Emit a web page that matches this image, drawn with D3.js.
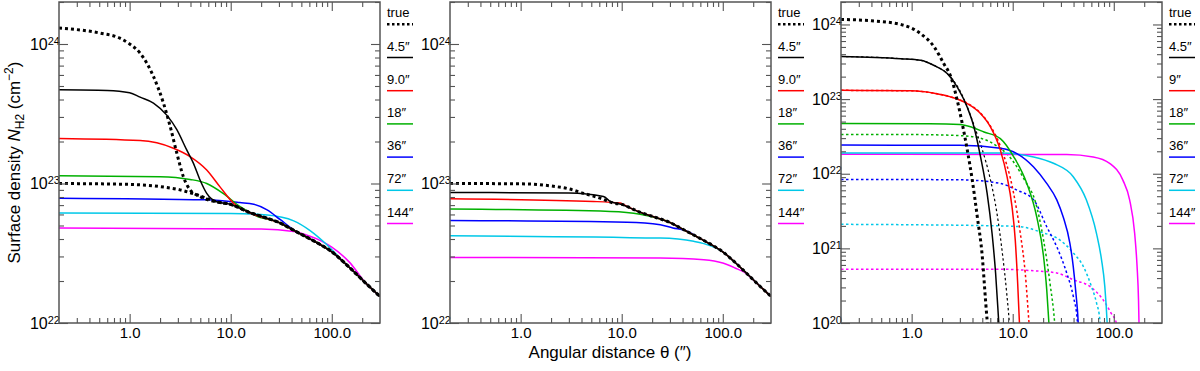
<!DOCTYPE html>
<html>
<head>
<meta charset="utf-8">
<script src="https://cdn.jsdelivr.net/npm/d3@7"></script>
<style>
  body { margin: 0; background: #fff; }
  text { font-family: "Liberation Sans", Arial, Helvetica, sans-serif; fill: #000; }
</style>
</head>
<body>
<svg id="chart"></svg>
<script>
// angular distance theta in arcsec, surface density N_H2 in cm^-2

// outer profile that every curve of the two left panels ends on
const tail = [[10, 7.08e22], [15, 6.24e22], [20, 5.82e22], [30, 5.25e22], [42, 4.62e22], [60, 4.03e22],
  [80, 3.59e22], [100, 3.24e22], [130, 2.75e22], [170, 2.29e22], [220, 1.91e22], [300, 1.55e22]];

// left panel
const aTrueHi = [[0.2, 1.3e24], [0.5, 1.2e24], [0.8, 1.1e24], [1.0, 1.0e24], [1.27, 8.6e23], [1.72, 5.85e23],
  [2.16, 3.77e23], [2.52, 2.56e23], [2.93, 1.65e23], [3.4, 1.12e23], [3.96, 9.0e22], [4.97, 8.07e22], [7.8, 7.3e22]];
const aTrueLo = [[0.2, 1.0e23], [1.0, 9.85e22], [2.0, 9.5e22], [3.15, 9.0e22], [4.6, 8.3e22], [7.26, 7.4e22]];
const a4 = [[0.2, 4.7e23], [0.6, 4.65e23], [1.0, 4.47e23], [1.27, 4.16e23], [1.72, 3.77e23], [2.33, 3.09e23],
  [2.93, 2.43e23], [3.67, 1.74e23], [4.27, 1.4e23], [4.97, 1.06e23], [5.79, 8.5e22], [7.26, 7.4e22]];
const a9 = [[0.2, 2.1e23], [1.27, 2.03e23], [2.71, 1.79e23], [3.96, 1.56e23], [5.79, 1.25e23], [7.8, 9.5e22],
  [10.6, 7.25e22], [15.5, 6.15e22], [22.5, 5.6e22]];
const a18 = [[0.2, 1.135e23], [2.0, 1.12e23], [3.96, 1.07e23], [5.79, 1.0e23], [8.4, 8.5e22], [12.3, 6.85e22], [18, 5.85e22]];
const a36 = [[0.2, 7.85e22], [5.79, 7.64e22], [12.3, 7.3e22], [16.9, 7.1e22], [22.9, 6.46e22], [31, 5.5e22], [42, 4.66e22]];
const a72 = [[0.2, 6.14e22], [10, 6.1e22], [22.9, 5.95e22], [42, 5.4e22], [61, 4.6e22], [89, 3.65e22]];
const a144 = [[0.2, 4.79e22], [20, 4.72e22], [42, 4.53e22], [60, 4.2e22], [80, 3.85e22], [100, 3.5e22], [150, 2.72e22]];

// middle panel
const bTrue = [[0.2, 1.0e23], [1.0, 9.95e22], [2.0, 9.6e22], [3.0, 9.15e22], [4.2, 8.5e22], [6.1, 7.85e22], [8.3, 7.24e22]];
const b4 = [[0.2, 8.63e22], [3.0, 8.55e22], [6.6, 8.07e22], [7.7, 7.43e22]];
const b9 = [[0.2, 7.76e22], [5.25, 7.43e22], [9.7, 7.24e22], [11.3, 6.84e22]];
const b18 = [[0.2, 6.56e22], [7.7, 6.31e22], [15.2, 6.03e22], [22.3, 5.65e22]];
const b36 = [[0.2, 5.43e22], [11.3, 5.28e22], [24.1, 5.06e22], [32, 4.8e22]];
const b72 = [[0.2, 4.22e22], [24.1, 4.06e22], [51.5, 3.85e22], [75.9, 3.58e22]];
const b144 = [[0.2, 2.95e22], [24, 2.92e22], [65, 2.84e22], [100, 2.69e22], [132, 2.48e22], [168, 2.28e22]];

// right panel, solid and dotted pairs
const cTrue = [[0.2, 1.17e24], [0.4, 1.12e24], [0.78, 1.0e24], [1.23, 7.5e23], [1.67, 5.01e23], [2.09, 2.95e23],
  [2.44, 2.0e23], [2.83, 9.55e22], [3.17, 4.68e22], [3.55, 2.09e22], [3.98, 8.2e21], [4.46, 2.66e21],
  [5.0, 7.76e20], [5.38, 2.04e20], [5.58, 1.1e20], [5.7, 8e19]];
const c4 = [[0.2, 3.73e23], [0.78, 3.48e23], [1.23, 3.31e23], [1.67, 2.82e23], [2.26, 2.19e23], [2.83, 1.45e23],
  [3.55, 7.76e22], [4.13, 4.27e22], [4.8, 1.7e22], [5.58, 5.5e21], [6.25, 1.58e21], [6.77, 4.68e20], [7.28, 1e20], [7.4, 7e19]];
const c4d = [[0.2, 3.73e23], [0.78, 3.48e23], [1.23, 3.31e23], [1.67, 2.82e23], [2.26, 2.19e23], [3.0, 1.3e23],
  [3.55, 7.9e22], [4.13, 4.5e22], [5.0, 2.1e22], [6.0, 8.5e21], [7.0, 2.9e21], [8.0, 7.5e20], [8.7, 2.6e20], [9.25, 1e20], [9.4, 7e19]];
const c9 = [[0.2, 1.31e23], [1.0, 1.29e23], [1.67, 1.2e23], [2.43, 1.07e23], [3.55, 8.71e22], [4.8, 6.4e22],
  [6.02, 4.24e22], [7.55, 2.07e22], [8.79, 9.12e21], [9.84, 3.63e21], [10.6, 1.29e21], [11.2, 3.39e20], [11.7, 8.9e19]];
const c9d = [[0.2, 1.31e23], [1.0, 1.29e23], [1.67, 1.2e23], [2.43, 1.07e23], [3.55, 8.8e22], [4.8, 6.5e22],
  [6.0, 4.37e22], [7.55, 2.34e22], [10.2, 5.5e21], [11.9, 1.58e21], [13.3, 4.68e20], [14.5, 1e20], [14.8, 7e19]];
const c18 = [[0.2, 4.7e22], [1.5, 4.66e22], [3.0, 4.57e22], [4.0, 4.17e22], [5.2, 3.63e22], [7.55, 2.95e22],
  [10.2, 1.7e22], [13.8, 7.41e21], [17.3, 2.63e21], [20.2, 7.76e20], [21.7, 2.82e20], [22.8, 1e20], [23.2, 7e19]];
const c18d = [[0.2, 3.36e22], [1.0, 3.35e22], [3.0, 3.24e22], [5.0, 2.95e22], [7.0, 2.34e22], [9.0, 1.78e22],
  [13.3, 7.94e21], [16.7, 4.27e21], [20.2, 1.29e21], [23.4, 3.39e20], [26, 1e20], [26.5, 7e19]];
const c36 = [[0.2, 2.42e22], [3.0, 2.4e22], [7.55, 2.19e22], [11, 1.86e22], [16.1, 1.23e22], [21.7, 7.41e21],
  [27.3, 4.47e21], [31.6, 2.63e21], [36.8, 1.17e21], [39.7, 5.75e20], [42.2, 2.51e20], [44.5, 1e20], [45, 7e19]];
const c36d = [[0.2, 8.4e21], [3.0, 8.3e21], [7.55, 7.41e21], [11, 6.03e21], [16.1, 4.47e21], [21.7, 1.95e21],
  [27.3, 1.05e21], [34.2, 4.68e20], [39.7, 2.29e20], [43.5, 1.1e20], [44, 8e19]];
const c72 = [[0.2, 1.9e22], [7.55, 1.89e22], [16.1, 1.68e22], [25.3, 1.38e22], [39.7, 9.12e21], [53.5, 4.47e21],
  [67.5, 1.58e21], [75.6, 7.08e20], [81.5, 3.09e20], [86, 1e20], [87, 7e19]];
const c72d = [[0.2, 2.1e21], [7.55, 2.0e21], [11.9, 1.95e21], [18.7, 1.66e21], [29.4, 1.29e21], [39.7, 8.71e20],
  [49.9, 5.75e20], [60.1, 3.09e20], [67.5, 1.86e20], [72.8, 1.1e20], [74, 8e19]];
const c144 = [[0.2, 1.83e22], [34.2, 1.81e22], [62.6, 1.68e22], [91, 1.38e22], [123, 8.22e21], [143.5, 4.47e21],
  [161, 1.58e21], [170, 5.75e20], [175.7, 2.04e20], [177.7, 1e20], [178.5, 7e19]];
const c144d = [[0.2, 5.26e20], [7.55, 5.25e20], [16.1, 5.01e20], [27.3, 4.68e20], [39.7, 3.8e20], [58, 3.09e20],
  [78.5, 2.04e20], [94.3, 1.35e20], [106, 1e20], [110, 8e19]];

const beamLabels = ['4.5\u2033', '9.0\u2033', '18\u2033', '36\u2033', '72\u2033', '144\u2033'];
const beamLabelsC = ['4.5\u2033', '9\u2033', '18\u2033', '36\u2033', '72\u2033', '144\u2033'];
const colors = ['#000000', '#ff0000', '#00b000', '#0000ff', '#00c8e8', '#ff00ff'];

const thetaDomain = [0.2, 300];

// layout
let config = {
  svg: { width: 1200, height: 371 },
  plot: { top: 2, bottom: 323, width: 321 },
  panels: [59, 450, 841],
  legendOffset: 7
};

let svg = d3.select('#chart')
  .attr('width', config.svg.width)
  .attr('height', config.svg.height);

function translate(x, y) {
  return 'translate(' + x + ',' + y + ')';
}

// head of a profile followed by the shared outer profile from theta = from
function joinTail(head, from) {
  return head.concat(tail.filter(d => d[0] >= from));
}

function isDecade(t) {
  let l = Math.log10(t);
  return Math.abs(l - Math.round(l)) < 1e-6;
}

const trueStyle = { color: '#000', width: 3, dash: '3 3' };
const thinDot = '2.5 2.5';

function drawPanel(i, yDomain, series, labels) {
  let left = config.panels[i];
  let top = config.plot.top, bottom = config.plot.bottom;
  let right = left + config.plot.width;

  let x = d3.scaleLog().domain(thetaDomain).range([left, right]);
  let y = d3.scaleLog().domain(yDomain).range([bottom, top]);

  let g = svg.append('g').attr('id', 'panel-' + i);

  let clipId = 'clip-' + i;
  g.append('clipPath').attr('id', clipId)
    .append('rect')
    .attr('x', left).attr('y', top)
    .attr('width', right - left).attr('height', bottom - top);

  let line = d3.line()
    .x(d => x(d[0]))
    .y(d => y(d[1]))
    .curve(d3.curveMonotoneX);

  let plot = g.append('g').attr('clip-path', 'url(#' + clipId + ')');
  series.forEach(s => {
    plot.append('path')
      .attr('d', line(s.data))
      .attr('fill', 'none')
      .attr('stroke', s.color)
      .attr('stroke-width', s.width)
      .attr('stroke-dasharray', s.dash || null);
  });

  // ticks, all pointing inward
  let xt = x.ticks().filter(t => t > thetaDomain[0] * 1.001 && t < thetaDomain[1] * 0.999);
  let xMajor = xt.filter(isDecade), xMinor = xt.filter(t => !isDecade(t));
  let yt = y.ticks();
  let yMajor = yt.filter(isDecade), yMinor = yt.filter(t => !isDecade(t));

  let tickColor = '#555';
  function addAxis(axis, tr) {
    return g.append('g')
      .attr('transform', tr)
      .call(axis)
      .call(a => a.select('.domain').remove())
      .call(a => a.selectAll('line').attr('stroke', tickColor).attr('stroke-width', 1.1))
      .attr('font-family', null);
  }

  addAxis(d3.axisBottom(x).tickValues(xMinor).tickSize(-5).tickFormat(''), translate(0, bottom));
  addAxis(d3.axisBottom(x).tickValues(xMajor).tickSize(-9).tickPadding(4).tickFormat(d3.format('.1f')),
    translate(0, bottom))
    .attr('font-size', 15);
  addAxis(d3.axisTop(x).tickValues(xMinor).tickSize(-5).tickFormat(''), translate(0, top));
  addAxis(d3.axisTop(x).tickValues(xMajor).tickSize(-9).tickFormat(''), translate(0, top));

  addAxis(d3.axisLeft(y).tickValues(yMinor).tickSize(-5).tickFormat(''), translate(left, 0));
  let yLab = addAxis(d3.axisLeft(y).tickValues(yMajor).tickSize(-9).tickPadding(-1).tickFormat(() => '10'),
    translate(left, 0))
    .attr('font-size', 16);
  yLab.selectAll('.tick text').each(function(d) {
    d3.select(this).append('tspan')
      .attr('dy', '-0.45em')
      .attr('font-size', 11)
      .text(Math.round(Math.log10(d)));
  });
  addAxis(d3.axisRight(y).tickValues(yMinor).tickSize(-5).tickFormat(''), translate(right, 0));
  addAxis(d3.axisRight(y).tickValues(yMajor).tickSize(-9).tickFormat(''), translate(right, 0));

  // frame
  g.append('rect')
    .attr('x', left).attr('y', top)
    .attr('width', right - left).attr('height', bottom - top)
    .attr('fill', 'none')
    .attr('stroke', tickColor)
    .attr('stroke-width', 1.5);

  // legend
  let legend = g.append('g').attr('transform', translate(right + config.legendOffset, 0));
  let entries = [{ label: 'true', color: '#000', width: 2.5, dash: '2.5 2.5' }]
    .concat(labels.map((l, k) => ({ label: l, color: colors[k], width: 1.5 })));
  entries.forEach((e, k) => {
    let ly = 24.3 + k * 33.2;
    legend.append('text')
      .attr('x', 0).attr('y', ly - 7)
      .attr('font-size', 13)
      .text(e.label);
    legend.append('line')
      .attr('x1', 0).attr('x2', 26)
      .attr('y1', ly).attr('y2', ly)
      .attr('stroke', e.color)
      .attr('stroke-width', e.width)
      .attr('stroke-dasharray', e.dash || null);
  });
}

// left panel
drawPanel(0, [1e22, 2e24], [
  { data: joinTail(a144, 220), color: colors[5], width: 1.5 },
  { data: joinTail(a72, 130), color: colors[4], width: 1.5 },
  { data: joinTail(a36, 60), color: colors[3], width: 1.5 },
  { data: joinTail(a18, 30), color: colors[2], width: 1.5 },
  { data: joinTail(a9, 30), color: colors[1], width: 1.5 },
  { data: joinTail(a4, 10), color: colors[0], width: 1.5 },
  Object.assign({ data: joinTail(aTrueLo, 10) }, trueStyle),
  Object.assign({ data: joinTail(aTrueHi, 10) }, trueStyle)
], beamLabels);

// middle panel
drawPanel(1, [1e22, 2e24], [
  { data: joinTail(b144, 220), color: colors[5], width: 1.5 },
  { data: joinTail(b72, 100), color: colors[4], width: 1.5 },
  { data: joinTail(b36, 42), color: colors[3], width: 1.5 },
  { data: joinTail(b18, 30), color: colors[2], width: 1.5 },
  { data: joinTail(b9, 15), color: colors[1], width: 1.5 },
  Object.assign({ data: joinTail(bTrue, 10) }, trueStyle),
  { data: joinTail(b4, 10), color: colors[0], width: 1.5 }
], beamLabels);

// right panel
drawPanel(2, [1e20, 2e24], [
  { data: c144d, color: colors[5], width: 1.5, dash: thinDot },
  { data: c72d, color: colors[4], width: 1.5, dash: thinDot },
  { data: c36d, color: colors[3], width: 1.5, dash: thinDot },
  { data: c18d, color: colors[2], width: 1.5, dash: thinDot },
  { data: c9d, color: colors[1], width: 1.5, dash: thinDot },
  { data: c4d, color: colors[0], width: 1.2, dash: thinDot },
  { data: c144, color: colors[5], width: 1.5 },
  { data: c72, color: colors[4], width: 1.5 },
  { data: c36, color: colors[3], width: 1.5 },
  { data: c18, color: colors[2], width: 1.5 },
  { data: c9, color: colors[1], width: 1.5 },
  { data: c4, color: colors[0], width: 1.5 },
  Object.assign({ data: cTrue }, trueStyle)
], beamLabelsC);

// axis titles
let yTitle = svg.append('text')
  .attr('transform', translate(19.5, 162.5) + ' rotate(-90)')
  .attr('text-anchor', 'middle')
  .attr('font-size', 17);
yTitle.append('tspan').text('Surface density ');
yTitle.append('tspan').attr('font-style', 'italic').text('N');
yTitle.append('tspan').attr('font-size', 12).attr('dy', 4).text('H2');
yTitle.append('tspan').attr('dy', -4).text(' (cm');
yTitle.append('tspan').attr('font-size', 12).attr('dy', -7).text('\u22122');
yTitle.append('tspan').attr('dy', 7).text(')');

svg.append('text')
  .attr('x', 610).attr('y', 358)
  .attr('text-anchor', 'middle')
  .attr('font-size', 17)
  .text('Angular distance \u03b8 (\u2033)');
</script>
</body>
</html>
